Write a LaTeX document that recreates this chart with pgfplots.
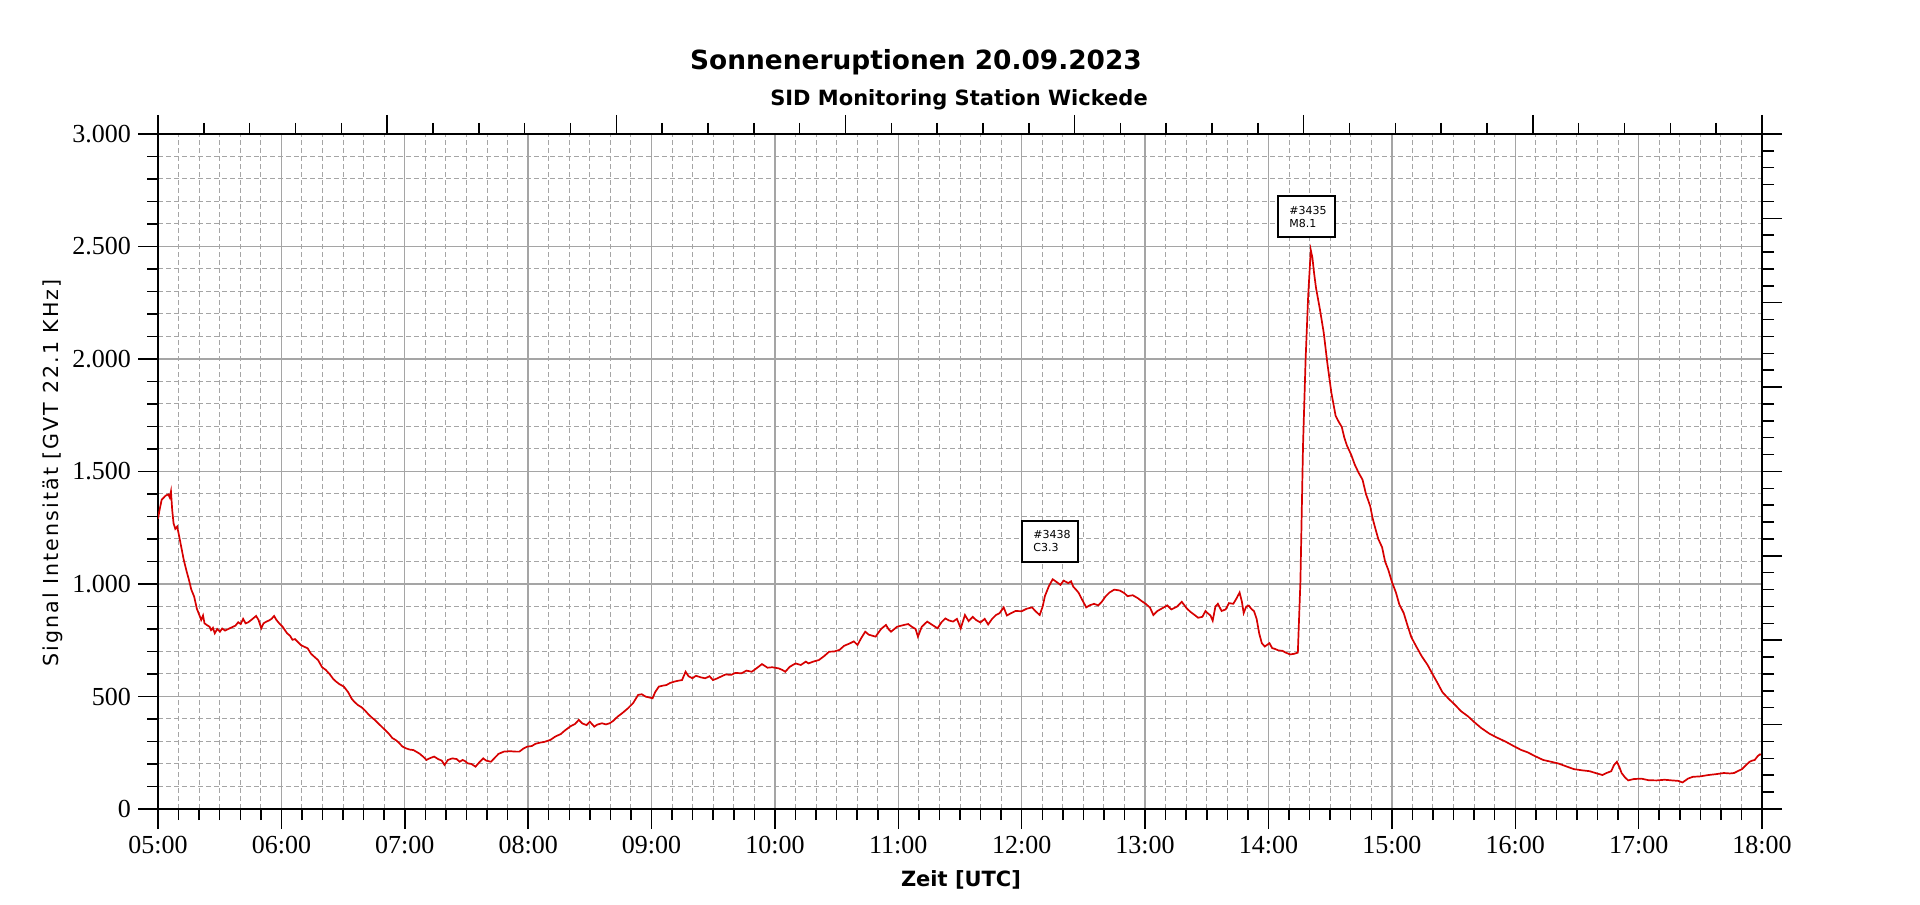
\documentclass[border=0pt]{standalone}
\usepackage{fontspec}
\setmainfont{Liberation Serif}
\newfontfamily\dejavu{DejaVu Sans}
\newfontfamily\dejavuls[LetterSpace=10]{DejaVu Sans}
\usepackage{pgfplots}
\pgfplotsset{compat=1.18}
\usepackage{pgfplotstable}
\definecolor{gridgray}{RGB}{165,165,165}
\definecolor{sigred}{RGB}{214,0,0}
\pgfplotstableread{
x y
5.000 1290
5.013 1330
5.030 1375
5.042 1381
5.060 1392
5.084 1398
5.095 1385
5.105 1412
5.115 1330
5.126 1270
5.140 1245
5.155 1255
5.167 1225
5.190 1160
5.209 1107
5.230 1060
5.251 1018
5.270 975
5.293 944
5.315 890
5.335 862
5.350 840
5.365 860
5.377 825
5.395 818
5.418 810
5.430 795
5.445 805
5.460 781
5.480 800
5.502 788
5.520 802
5.544 793
5.570 800
5.600 808
5.628 815
5.650 830
5.670 822
5.690 845
5.710 825
5.732 830
5.760 842
5.795 858
5.815 840
5.837 803
5.855 825
5.879 833
5.900 838
5.920 845
5.941 858
5.960 840
5.983 825
6.010 810
6.046 781
6.070 770
6.090 752
6.110 755
6.130 744
6.160 728
6.190 720
6.213 714
6.240 690
6.270 675
6.297 662
6.330 630
6.360 618
6.390 600
6.420 578
6.444 566
6.470 555
6.506 544
6.540 520
6.570 490
6.590 477
6.620 462
6.650 452
6.674 440
6.710 418
6.740 403
6.757 396
6.790 378
6.820 362
6.841 351
6.870 335
6.900 315
6.925 307
6.950 296
6.980 278
7.008 270
7.040 264
7.070 262
7.092 255
7.120 246
7.150 232
7.176 218
7.200 225
7.238 233
7.270 222
7.300 215
7.322 196
7.350 218
7.385 225
7.420 222
7.445 210
7.469 218
7.490 212
7.510 203
7.540 200
7.573 188
7.600 205
7.636 225
7.660 215
7.699 210
7.730 228
7.760 245
7.803 255
7.850 257
7.900 255
7.929 255
7.960 268
7.992 277
8.030 280
8.060 290
8.096 295
8.130 298
8.180 307
8.220 322
8.264 333
8.300 350
8.347 369
8.380 378
8.410 396
8.440 380
8.473 373
8.500 388
8.536 366
8.560 375
8.598 381
8.630 376
8.661 381
8.690 392
8.724 410
8.760 425
8.808 447
8.850 470
8.891 507
8.920 510
8.954 499
8.980 496
9.008 492
9.030 520
9.059 544
9.090 548
9.121 551
9.150 560
9.184 566
9.215 570
9.247 573
9.276 610
9.300 590
9.331 581
9.360 592
9.400 585
9.435 581
9.470 590
9.498 573
9.530 580
9.561 588
9.600 598
9.644 596
9.680 605
9.728 603
9.770 615
9.812 610
9.850 625
9.895 644
9.940 628
9.979 630
10.030 625
10.060 618
10.084 610
10.120 632
10.167 647
10.210 640
10.250 655
10.272 647
10.310 655
10.356 662
10.400 680
10.439 699
10.480 700
10.523 707
10.560 725
10.607 736
10.640 745
10.669 729
10.700 760
10.732 788
10.760 775
10.790 770
10.816 766
10.860 800
10.900 818
10.920 800
10.941 788
10.990 810
11.046 818
11.080 822
11.109 810
11.140 800
11.159 766
11.190 810
11.234 833
11.270 820
11.318 803
11.350 830
11.381 847
11.410 838
11.444 833
11.475 845
11.506 803
11.540 862
11.570 835
11.603 854
11.630 840
11.665 829
11.700 845
11.728 820
11.760 845
11.791 862
11.820 870
11.854 896
11.880 860
11.916 871
11.950 880
12.000 879
12.040 890
12.084 896
12.110 880
12.146 862
12.170 900
12.188 946
12.220 990
12.251 1021
12.280 1010
12.314 996
12.340 1015
12.377 1004
12.400 1012
12.418 988
12.440 975
12.460 962
12.490 930
12.523 896
12.550 905
12.586 912
12.620 905
12.649 921
12.680 945
12.711 962
12.750 975
12.795 971
12.830 960
12.858 946
12.900 950
12.941 937
12.970 925
13.004 912
13.040 895
13.067 862
13.100 880
13.151 896
13.180 905
13.213 887
13.260 900
13.297 921
13.340 890
13.370 875
13.402 862
13.430 850
13.464 854
13.490 880
13.506 871
13.530 860
13.548 837
13.570 900
13.590 912
13.620 880
13.653 887
13.680 915
13.715 912
13.740 935
13.766 962
13.785 920
13.799 871
13.820 900
13.841 904
13.860 890
13.883 879
13.904 845
13.925 780
13.946 737
13.970 722
14.008 737
14.030 715
14.050 712
14.080 705
14.113 703
14.140 695
14.176 687
14.210 690
14.238 695
14.259 1013
14.280 1615
14.301 1999
14.322 2283
14.343 2484
14.356 2450
14.370 2380
14.385 2317
14.418 2217
14.448 2116
14.477 1982
14.510 1849
14.544 1748
14.570 1720
14.594 1698
14.615 1650
14.636 1615
14.670 1575
14.699 1531
14.730 1495
14.762 1464
14.790 1400
14.824 1347
14.845 1290
14.866 1247
14.890 1200
14.921 1163
14.945 1100
14.971 1063
15.000 1010
15.033 962
15.060 910
15.096 871
15.130 810
15.159 762
15.200 720
15.243 678
15.290 640
15.326 603
15.370 560
15.410 519
15.460 490
15.515 461
15.560 435
15.619 411
15.670 385
15.724 360
15.790 335
15.849 318
15.920 300
15.996 277
16.050 262
16.100 252
16.160 235
16.226 218
16.290 210
16.351 202
16.420 188
16.477 177
16.540 172
16.603 168
16.650 160
16.707 151
16.740 160
16.778 168
16.800 195
16.824 210
16.845 185
16.862 160
16.890 140
16.916 127
16.960 133
17.021 135
17.080 128
17.146 127
17.210 130
17.272 127
17.320 125
17.356 118
17.400 135
17.439 143
17.500 145
17.565 151
17.630 155
17.690 160
17.740 158
17.774 160
17.810 170
17.837 177
17.870 195
17.900 210
17.920 215
17.941 218
17.965 235
17.983 243
18.000 240
}\sigdata
\newcommand\tickfont{\fontsize{13}{13}\selectfont}
\begin{document}
\begin{tikzpicture}
\path[use as bounding box] (0pt,0pt) rectangle (960pt,452pt);
\begin{axis}[
  at={(79pt,47.5pt)}, anchor=south west,
  scale only axis, width=802pt, height=337.5pt,
  xmin=5, xmax=18, ymin=0, ymax=3000,
  xtick={5,...,18},
  xticklabels={05:00,06:00,07:00,08:00,09:00,10:00,11:00,12:00,13:00,14:00,15:00,16:00,17:00,18:00},
  ytick={0,500,...,3000},
  yticklabels={0,500,1.000,1.500,2.000,2.500,3.000},
  minor x tick num=5, minor y tick num=4,
  xtick pos=bottom, ytick pos=left,
  tick align=outside,
  major tick length=10pt, minor tick length=5.5pt,
  tick style={black, line width=0.75pt},
  grid=both,
  major grid style={gridgray, line width=0.7pt},
  minor grid style={gridgray, line width=0.5pt, dash pattern=on 2.5pt off 1.5pt},
  axis line style={black, line width=0.75pt},
  ticklabel style={font=\tickfont},
]
\addplot[sigred, line width=0.85pt] table[x=x, y=y] {\sigdata};
\draw[black, line width=0.7pt, fill=white] (axis cs:14.078,2542) rectangle (axis cs:14.540,2724);
\node[anchor=west, align=left, inner sep=0pt, font=\dejavu\fontsize{5.5}{6.5}\selectfont] at (axis cs:14.167,2633) {\#3435\\M8.1};
\draw[black, line width=0.7pt, fill=white] (axis cs:12.002,1098) rectangle (axis cs:12.456,1280);
\node[anchor=west, align=left, inner sep=0pt, font=\dejavu\fontsize{5.5}{6.5}\selectfont] at (axis cs:12.091,1189) {\#3438\\C3.3};
\end{axis}
% top auxiliary scale
\begin{axis}[
  at={(79pt,47.5pt)}, anchor=south west,
  scale only axis, width=802pt, height=337.5pt,
  xmin=0, xmax=7, ymin=0, ymax=1,
  axis x line*=top, hide y axis,
  xtick={0,...,7}, xticklabels={}, minor x tick num=4,
  tick align=outside,
  major tick length=9.5pt, minor tick length=5.5pt,
  tick style={black, line width=0.75pt},
  axis line style={-, black, line width=0.75pt},
]
\end{axis}
% right auxiliary scale
\begin{axis}[
  at={(79pt,47.5pt)}, anchor=south west,
  scale only axis, width=802pt, height=337.5pt,
  xmin=0, xmax=1, ymin=0, ymax=40,
  axis y line*=right, hide x axis,
  ytick={0,5,...,40}, yticklabels={}, minor y tick num=4,
  tick align=outside,
  major tick length=10pt, minor tick length=6pt,
  tick style={black, line width=0.75pt},
  axis line style={-, black, line width=0.75pt},
]
\end{axis}
\node[font=\dejavu\bfseries\fontsize{13.2}{15}\selectfont] at (458pt,421pt) {Sonneneruptionen 20.09.2023};
\node[font=\dejavu\bfseries\fontsize{10.5}{12}\selectfont] at (479.5pt,402pt) {SID Monitoring Station Wickede};
\node[rotate=90, font=\dejavuls\fontsize{10.3}{12}\selectfont] at (26.5pt,215.5pt) {Signal Intensität [GVT 22.1 KHz]};
\node[font=\dejavu\bfseries\fontsize{10.5}{12}\selectfont] at (480.5pt,12pt) {Zeit [UTC]};
\end{tikzpicture}
\end{document}
